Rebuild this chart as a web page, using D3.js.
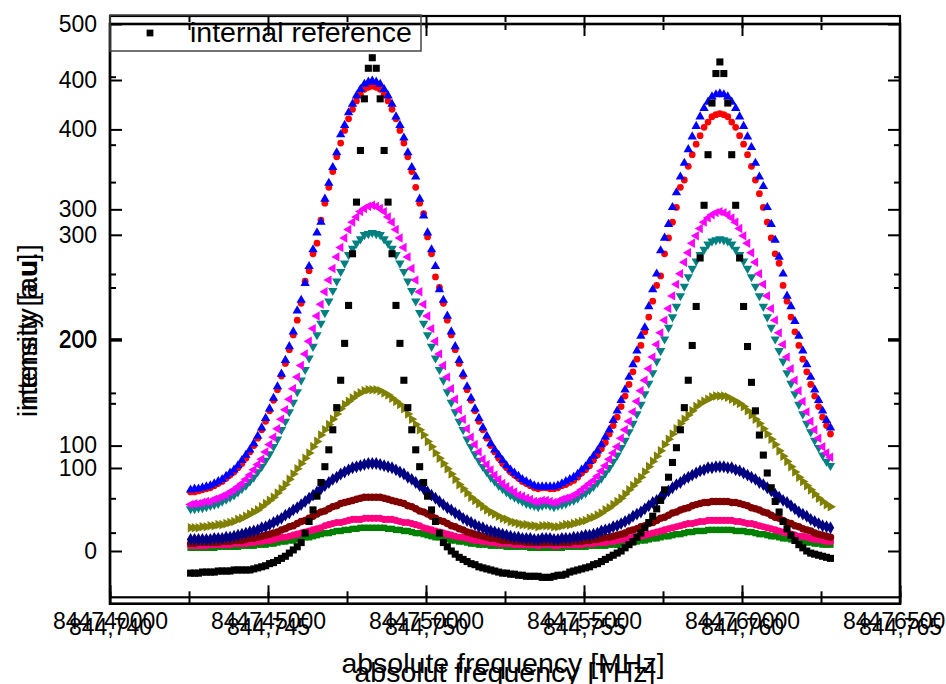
<!DOCTYPE html>
<html><head><meta charset="utf-8">
<script src="https://cdn.jsdelivr.net/npm/d3@7"></script>
<style>body{margin:0;background:#fff}svg{display:block}</style>
</head><body>
<script>
// ---------------- DATA ----------------
const freqMHz = [
844742550,844742675,844742800,844742925,844743050,844743175,844743300,844743425,844743550,844743675,
844743800,844743925,844744050,844744175,844744300,844744425,844744550,844744675,844744800,844744925,
844745050,844745175,844745300,844745425,844745550,844745675,844745800,844745925,844746050,844746175,
844746300,844746425,844746550,844746675,844746800,844746925,844747050,844747175,844747300,844747425,
844747550,844747675,844747800,844747925,844748050,844748175,844748300,844748425,844748550,844748675,
844748800,844748925,844749050,844749175,844749300,844749425,844749550,844749675,844749800,844749925,
844750050,844750175,844750300,844750425,844750550,844750675,844750800,844750925,844751050,844751175,
844751300,844751425,844751550,844751675,844751800,844751925,844752050,844752175,844752300,844752425,
844752550,844752675,844752800,844752925,844753050,844753175,844753300,844753425,844753550,844753675,
844753800,844753925,844754050,844754175,844754300,844754425,844754550,844754675,844754800,844754925,
844755050,844755175,844755300,844755425,844755550,844755675,844755800,844755925,844756050,844756175,
844756300,844756425,844756550,844756675,844756800,844756925,844757050,844757175,844757300,844757425,
844757550,844757675,844757800,844757925,844758050,844758175,844758300,844758425,844758550,844758675,
844758800,844758925,844759050,844759175,844759300,844759425,844759550,844759675,844759800,844759925,
844760050,844760175,844760300,844760425,844760550,844760675,844760800,844760925,844761050,844761175,
844761300,844761425,844761550,844761675,844761800,844761925,844762050,844762175,844762300,844762425,
844762550,844762675,844762800];

const internalReference = [
-21,-21,-21,-20,-20,-20,-20,-19,-19,-19,-19,-18,-18,-18,-18,-18,-17,-16,-15,-14,
-12,-11,-9,-7,-5,-2,1,4,8,17,28,39,52,65,80,96,115,136,162,197,
233,282,331,380,429,458,468,458,429,380,331,282,233,197,162,136,115,96,80,65,
52,39,28,17,8,4,0,-3,-6,-8,-10,-12,-13,-15,-16,-17,-18,-19,-20,-21,
-21,-22,-22,-23,-23,-24,-24,-24,-24,-25,-25,-25,-24,-23,-23,-22,-20,-19,-18,-17,
-16,-15,-13,-12,-10,-8,-6,-4,-2,0,3,6,9,13,17,22,27,33,40,48,
58,70,84,98,115,136,162,195,232,278,328,376,425,453,464,453,425,376,328,278,
232,194,160,133,110,91,74,60,47,37,28,21,15,10,6,3,0,-2,-3,-4,
-5,-6,-7];

const seriesRed = [
56,56,57,58,59,60,62,64,66,69,72,75,79,83,88,94,100,107,115,123,
133,143,153,166,178,191,205,219,235,256,266,282,292,314,330,345,360,374,387,399,
410,419,427,433,438,440,441,440,438,433,427,419,410,399,387,374,360,345,330,320,
298,282,260,250,235,219,205,191,178,166,153,143,133,123,115,107,100,94,88,83,
79,75,72,69,66,64,62,60,59,60,60,59,59,60,62,63,65,67,70,74,
77,81,86,91,97,103,111,119,127,137,147,158,170,182,195,208,222,237,252,261,
282,297,312,326,345,352,365,376,386,394,402,407,412,414,415,414,412,407,402,394,
386,376,365,352,339,326,312,297,282,273,252,237,222,208,195,182,170,158,147,137,
127,119,111];

const seriesBlue = [
58,59,59,60,61,62,64,66,68,71,74,77,81,86,91,96,102,109,117,126,
135,145,156,168,181,194,208,228,238,254,270,286,302,312,334,349,364,378,395,404,
416,424,432,438,443,445,446,445,443,438,432,424,412,404,392,378,364,355,334,318,
302,286,270,248,238,223,208,194,181,168,156,145,135,126,117,109,102,96,91,86,
81,77,74,71,68,66,64,62,61,61,61,61,61,62,64,66,68,70,73,77,
80,85,90,95,101,108,115,124,133,143,153,165,177,190,204,212,232,248,263,285,
297,310,326,340,355,368,381,393,403,412,420,426,431,433,434,433,431,426,420,412,
403,393,383,368,355,346,326,310,295,279,263,242,232,218,204,190,177,165,153,143,
133,124,117];

const seriesMagenta = [
44,45,45,46,47,47,49,50,52,53,56,58,61,64,68,72,77,82,87,94,
101,108,116,125,134,144,154,165,176,187,199,211,223,234,246,257,268,279,288,297,
305,312,317,322,325,327,328,327,325,322,317,312,305,297,288,279,268,257,246,234,
223,211,199,187,176,165,154,144,134,125,116,108,101,94,87,82,77,72,68,64,
61,58,56,53,52,50,49,47,47,48,48,47,46,47,49,50,51,53,55,58,
61,64,67,71,76,81,87,93,99,107,115,123,132,142,152,162,173,184,196,207,
219,230,242,253,263,274,283,292,299,306,312,316,319,321,322,321,319,316,312,306,
299,292,283,274,263,253,242,230,219,207,196,184,173,162,152,142,132,123,115,107,
99,93,89];

const seriesTeal = [
40,40,41,41,42,43,44,45,47,49,51,53,56,59,62,66,70,75,80,86,
92,99,106,115,123,132,141,151,162,172,183,194,205,216,226,237,247,256,265,273,
281,287,292,296,300,301,302,301,300,296,292,287,281,273,265,256,247,237,226,216,
205,194,183,172,162,151,141,132,123,115,106,99,92,86,80,75,70,66,62,59,
56,53,51,49,47,45,44,43,42,43,44,43,42,43,44,45,47,48,50,53,
55,58,61,65,69,74,79,85,91,98,105,113,121,130,139,149,159,169,180,190,
201,212,222,232,242,251,260,268,275,281,286,291,294,295,296,295,294,291,286,281,
275,268,260,251,242,232,222,212,201,190,180,169,159,149,139,130,121,113,105,98,
91,85,81];

const seriesOlive = [
22,22,22,23,23,24,24,25,25,26,27,28,30,31,33,35,37,39,42,45,
48,51,55,59,63,68,73,78,83,88,93,99,104,110,115,120,125,130,135,139,
142,145,148,150,152,153,153,153,152,150,148,145,142,139,135,130,125,120,115,110,
104,99,93,88,83,78,73,68,63,59,55,51,48,45,42,39,37,35,33,31,
30,28,27,26,25,25,24,24,23,24,24,24,23,23,24,25,25,26,27,28,
29,31,32,34,36,39,41,44,47,50,54,58,62,66,70,75,80,85,90,95,
101,106,111,116,121,125,129,133,137,140,142,144,146,147,147,147,146,144,142,140,
137,133,129,125,121,116,111,106,101,95,90,85,80,75,70,66,62,58,54,50,
47,44,42];

const seriesNavy = [
11,11,11,11,11,11,12,12,12,13,13,14,15,16,17,18,19,20,22,23,
25,27,29,31,34,36,39,41,44,47,50,53,56,59,62,65,68,70,73,75,
77,79,80,81,82,83,83,83,82,81,80,79,77,75,73,70,68,65,62,59,
56,53,50,47,44,41,39,36,34,31,29,27,25,23,22,20,19,18,17,16,
15,14,13,13,12,12,12,11,11,12,12,12,11,11,12,12,12,13,13,14,
15,15,16,17,19,20,21,23,24,26,28,30,33,35,37,40,43,46,48,51,
54,57,60,63,65,68,70,72,74,76,77,79,79,80,80,80,79,79,77,76,
74,72,70,68,65,63,60,57,54,51,48,46,43,40,37,35,33,30,28,26,
24,23,22];

const seriesMaroon = [
7,7,8,8,8,8,8,8,9,9,9,10,10,10,11,12,12,13,14,15,
16,17,18,20,21,23,24,26,28,29,31,33,35,37,38,40,42,43,45,46,
47,48,49,50,51,51,51,51,51,50,49,48,47,46,45,43,42,40,38,37,
35,33,31,29,28,26,24,23,21,20,18,17,16,15,14,13,12,12,11,10,
10,10,9,9,9,8,8,8,8,8,8,8,8,8,8,8,8,9,9,9,
10,10,11,11,12,13,13,14,15,16,17,19,20,21,23,24,26,27,29,31,
32,34,36,37,39,40,41,43,44,45,46,46,47,47,47,47,47,46,46,45,
44,43,41,40,39,37,36,34,32,31,29,27,26,24,23,21,20,19,17,16,
15,14,13];

const seriesPink = [
5,5,5,5,5,6,6,6,6,6,6,7,7,7,7,8,8,9,9,10,
10,11,12,13,13,14,15,16,17,18,19,20,21,22,24,25,26,27,27,28,
29,30,30,30,31,31,31,31,31,30,30,30,29,28,27,27,26,25,24,22,
21,20,19,18,17,16,15,14,13,13,12,11,10,10,9,9,8,8,7,7,
7,7,6,6,6,6,6,6,5,6,6,6,5,5,6,6,6,6,6,6,
7,7,7,8,8,8,9,9,10,11,11,12,13,14,14,15,16,17,18,19,
20,21,22,23,24,25,26,26,27,28,28,29,29,29,29,29,29,29,28,28,
27,26,26,25,24,23,22,21,20,19,18,17,16,15,14,14,13,12,11,11,
10,9,9];

const seriesGreen = [
3,3,3,3,3,3,3,4,4,4,4,4,4,5,5,5,5,6,6,6,
7,7,8,9,9,10,10,11,12,13,13,14,15,16,17,17,18,19,19,20,
20,21,21,22,22,22,22,22,22,22,21,21,20,20,19,19,18,17,17,16,
15,14,13,13,12,11,10,10,9,9,8,7,7,6,6,6,5,5,5,5,
4,4,4,4,4,4,3,3,3,3,3,3,3,3,3,4,4,4,4,4,
4,5,5,5,5,5,6,6,6,7,7,8,8,9,10,10,11,12,12,13,
14,14,15,16,16,17,18,18,19,19,19,20,20,20,20,20,20,20,19,19,
19,18,18,17,16,16,15,14,14,13,12,12,11,10,10,9,8,8,7,7,
6,6,6];

const legendLabels = ["internal reference"];
const xTicksMHz = [844740000,844745000,844750000,844755000,844760000,844765000];
const xMinorMHz = [844742500,844747500,844752500,844757500,844762500];
const xTicksTHz = [844.740,844.745,844.750,844.755,844.760,844.765];
const xMinorTHz = [844.7425,844.7475,844.7525,844.7575,844.7625];
const yTicksA = [0,100,200,300,400,500];
const yMinorA = [50,150,250,350,450];
const yTicksB = [100,200,300,400];
const yMinorB = [50,150,250,350];
const xTitleMHz = "absolute frequency [MHz]";
const xTitleTHz = "absolut frequency [THz]";
const yTitles = ["intensity [a.u.]", "intensity [au]"];

// ---------------- DRAW ----------------
const FONT = "'Liberation Sans', Arial, Helvetica, sans-serif";
const svg = d3.select("body").append("svg").attr("width", 946).attr("height", 684);

const x  = d3.scaleLinear().domain([844740000, 844765000]).range([110, 900]);
const xT = d3.scaleLinear().domain([844.740, 844.765]).range([110, 900]);
const yA = d3.scaleLinear().domain([-50, 500]).range([603.7, 24]);
const yB = d3.scaleLinear().domain([0, 449.5]).range([597.3, 16]);

const styles = [
  {data: seriesGreen,   color: "#008000", type: d3.symbolSquare,   size: 40, rot: 0},
  {data: seriesPink,    color: "#ff0080", type: d3.symbolCircle,   size: 40, rot: 0},
  {data: seriesMaroon,  color: "#800000", type: d3.symbolCircle,   size: 44, rot: 0},
  {data: seriesNavy,    color: "#000080", type: d3.symbolDiamond,  size: 48, rot: 0},
  {data: seriesOlive,   color: "#808000", type: d3.symbolTriangle, size: 40, rot: 90},
  {data: seriesTeal,    color: "#008080", type: d3.symbolTriangle, size: 38, rot: 180},
  {data: seriesMagenta, color: "#ff00ff", type: d3.symbolTriangle, size: 38, rot: -90},
  {data: seriesRed,     color: "#ff0000", type: d3.symbolCircle,   size: 36, rot: 0},
  {data: seriesBlue,    color: "#0000ff", type: d3.symbolTriangle, size: 38, rot: 0},
  {data: internalReference, color: "#000000", type: d3.symbolSquare, size: 50, rot: 0}
];

const plot = svg.append("g");
styles.forEach(s => {
  const sym = d3.symbol().type(s.type).size(s.size);
  plot.append("g").selectAll("path")
    .data(s.data.map((v, i) => [freqMHz[i], v]))
    .join("path")
    .attr("transform", d => `translate(${x(d[0])},${yA(d[1])}) rotate(${s.rot})`)
    .attr("d", sym)
    .attr("fill", s.color);
});

function styleAxis(g, fs) {
  g.select(".domain").remove();
  g.selectAll("line").attr("stroke", "#000").attr("stroke-width", 2);
  g.selectAll("text").attr("font-family", FONT).attr("font-size", fs).attr("fill", "#000");
}

// Frames
[[yA, 2.6], [yB, 2.2]].forEach(([ys, w]) => {
  const r = ys.range();
  svg.append("rect").attr("x", x.range()[0]).attr("y", r[1])
    .attr("width", x.range()[1] - x.range()[0]).attr("height", r[0] - r[1])
    .attr("fill", "none").attr("stroke", "#000").attr("stroke-width", w);
});

// Left y axes + right mirrors
[[yA, yTicksA, yMinorA], [yB, yTicksB, yMinorB]].forEach(([ys, maj, mi]) => {
  svg.append("g").attr("transform", "translate(110,0)")
    .call(d3.axisLeft(ys).tickValues(maj).tickSizeInner(-12).tickSizeOuter(0).tickPadding(13).tickFormat(d3.format("d")))
    .call(g => styleAxis(g, 23));
  svg.append("g").attr("transform", "translate(110,0)")
    .call(d3.axisLeft(ys).tickValues(mi).tickSizeInner(-6).tickSizeOuter(0).tickFormat(""))
    .call(g => styleAxis(g, 23));
  svg.append("g").attr("transform", "translate(900,0)")
    .call(d3.axisRight(ys).tickValues(maj).tickSizeInner(-12).tickSizeOuter(0).tickFormat(""))
    .call(g => styleAxis(g, 23));
  svg.append("g").attr("transform", "translate(900,0)")
    .call(d3.axisRight(ys).tickValues(mi).tickSizeInner(-6).tickSizeOuter(0).tickFormat(""))
    .call(g => styleAxis(g, 23));
});

// Bottom x axes
svg.append("g").attr("transform", `translate(0,${yB.range()[0]})`)
  .call(d3.axisBottom(x).tickValues(xTicksMHz).tickSizeInner(-12).tickSizeOuter(0).tickPadding(15).tickFormat(d3.format("d")))
  .call(g => styleAxis(g, 23));
svg.append("g").attr("transform", `translate(0,${yB.range()[0]})`)
  .call(d3.axisBottom(x).tickValues(xMinorMHz).tickSizeInner(-6).tickSizeOuter(0).tickFormat(""))
  .call(g => styleAxis(g, 23));
svg.append("g").attr("transform", `translate(0,${yA.range()[0]})`)
  .call(d3.axisBottom(xT).tickValues(xTicksTHz).tickSizeInner(-12).tickSizeOuter(0).tickPadding(15)
        .tickFormat(d => d3.format(".3f")(d).replace(".", ",")))
  .call(g => styleAxis(g, 23));
svg.append("g").attr("transform", `translate(0,${yA.range()[0]})`)
  .call(d3.axisBottom(xT).tickValues(xMinorTHz).tickSizeInner(-6).tickSizeOuter(0).tickFormat(""))
  .call(g => styleAxis(g, 23));

// Top x axes
svg.append("g").attr("transform", `translate(0,${yB.range()[1]})`)
  .call(d3.axisTop(x).tickValues(xTicksMHz.slice(1, -1)).tickSizeInner(-12).tickSizeOuter(0).tickFormat(""))
  .call(g => styleAxis(g, 23));
svg.append("g").attr("transform", `translate(0,${yB.range()[1]})`)
  .call(d3.axisTop(x).tickValues(xMinorMHz).tickSizeInner(-6).tickSizeOuter(0).tickFormat(""))
  .call(g => styleAxis(g, 23));
svg.append("g").attr("transform", `translate(0,${yA.range()[1]})`)
  .call(d3.axisTop(xT).tickValues(xTicksTHz.slice(1, -1)).tickSizeInner(-12).tickSizeOuter(0).tickFormat(""))
  .call(g => styleAxis(g, 23));
svg.append("g").attr("transform", `translate(0,${yA.range()[1]})`)
  .call(d3.axisTop(xT).tickValues(xMinorTHz).tickSizeInner(-6).tickSizeOuter(0).tickFormat(""))
  .call(g => styleAxis(g, 23));

// Axis titles
svg.append("text").attr("x", 503).attr("y", 673).attr("text-anchor", "middle")
  .attr("font-family", FONT).attr("font-size", 28.5).text(xTitleMHz);
svg.append("text").attr("x", 505).attr("y", 682).attr("text-anchor", "middle")
  .attr("font-family", FONT).attr("font-size", 28.5).text(xTitleTHz);
svg.append("text").attr("transform", "translate(37,417) rotate(-90)")
  .attr("font-family", FONT).attr("font-size", 28).text(yTitles[0]);
svg.append("text").attr("transform", "translate(37,411) rotate(-90)")
  .attr("font-family", FONT).attr("font-size", 28).text(yTitles[1]);

// Legend
const lg = svg.append("g");
lg.append("rect").attr("x", 110).attr("y", 15).attr("width", 311).attr("height", 36)
  .attr("fill", "none").attr("stroke", "#444").attr("stroke-width", 1.5);
lg.append("path").attr("transform", "translate(150,33)")
  .attr("d", d3.symbol().type(d3.symbolSquare).size(46)).attr("fill", "#000");
lg.append("text").attr("x", 190).attr("y", 42).attr("font-family", FONT).attr("font-size", 28.5)
  .text(legendLabels[0]);
</script>
</body></html>
